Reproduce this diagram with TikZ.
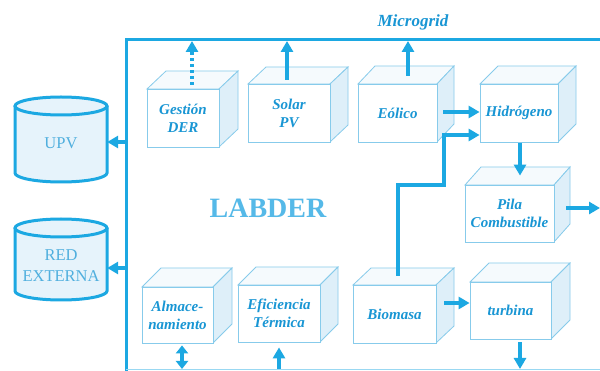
\documentclass[tikz,border=0pt]{standalone}
\usepackage{fontspec}
\setmainfont{Liberation Serif}
\usetikzlibrary{arrows.meta}
\definecolor{lineblue}{RGB}{28,168,226}
\definecolor{textblue}{RGB}{25,150,212}
\definecolor{edgeblue}{RGB}{135,203,235}
\definecolor{sidefill}{RGB}{222,239,249}
\definecolor{topfill}{RGB}{245,250,253}
\definecolor{cylfill}{RGB}{230,243,251}
\definecolor{cyltext}{RGB}{80,175,222}
\definecolor{labtext}{RGB}{85,185,232}
\tikzset{
  cubeedge/.style={draw=edgeblue, line width=0.8pt},
  cubeface/.style={draw=edgeblue, line width=0.8pt, fill=white, align=center, inner sep=0pt,
    text=textblue, font=\bfseries\itshape\fontsize{15}{18}\selectfont},
  arr/.style={draw=lineblue, line width=3.2pt, -{Triangle[length=11pt,width=12pt]}},
  darr/.style={draw=lineblue, line width=3.2pt, {Triangle[length=8pt,width=12pt]}-{Triangle[length=8pt,width=12pt]}},
  dotarr/.style={draw=lineblue, line width=3.2pt, dash pattern=on 3pt off 3pt, -{Triangle[length=11pt,width=12pt]}},
  framel/.style={draw=lineblue, line width=3pt},
  cylline/.style={draw=lineblue, line width=3pt, fill=cylfill},
  cyllabel/.style={text=cyltext, align=center, inner sep=0pt, font=\fontsize{16.5}{21}\selectfont},
}
\newcommand\mycube[8]{%
  \filldraw[cubeedge, fill=topfill] (#2,#3) -- ({#2+#6},{#3-#7}) -- ({#4+#6},{#3-#7}) -- (#4,#3) -- cycle;
  \filldraw[cubeedge, fill=sidefill] (#4,#3) -- ({#4+#6},{#3-#7}) -- ({#4+#6},{#5-#7}) -- (#4,#5) -- cycle;
  \node[cubeface, minimum width={(#4-#2)*1pt}, minimum height={(#5-#3)*1pt}] (#1) at ({(#2+#4)/2},{(#3+#5)/2}) {#8};
}
\newcommand\mycyl[4]{% x1, x2, ytop, ybottom
  \filldraw[cylline] (#1,#3) -- (#1,#4) arc[start angle=180, end angle=360, x radius={(#2-#1)/2*1pt}, y radius=9pt] -- (#2,#3);
  \filldraw[cylline] ({(#1+#2)/2},#3) ellipse[x radius={(#2-#1)/2*1pt}, y radius=9pt];
}
\begin{document}
\begin{tikzpicture}[x=1pt,y=-1pt]
\useasboundingbox[fill=white] (0,0) rectangle (600,371);

% frame
\draw[framel] (600,40) -- (126,40) -- (126,372);
\draw[draw=lineblue!45, line width=1pt] (126,369.5) -- (600,369.5);
\node[text=textblue, font=\bfseries\itshape\fontsize{17}{20}\selectfont, inner sep=0pt] (mg) at (413,22) {Microgrid};

% frame coordinates
\coordinate (fupv) at (126,142);
\coordinate (fred) at (126,268);
\coordinate (gtop) at (192,41);
\coordinate (stop) at (287,41);
\coordinate (etop) at (408,41);
\coordinate (pleft) at (566,208);
\coordinate (pright) at (600,208);
\coordinate (tbot) at (520,369);
\coordinate (abot) at (182,369);
\coordinate (efbot) at (279,369);
\coordinate (b0) at (398,276);
\coordinate (b1) at (398,185);
\coordinate (b2) at (444,185);
\coordinate (b3) at (444,135);
\coordinate (eh) at (443,112);
\coordinate (bt) at (444,303);
\coordinate (hp) at (520,143);

% cylinders
\mycyl{15}{107}{106}{173}
\node[cyllabel, minimum width=92pt] (upv) at (61,143) {UPV};
\mycyl{15}{107}{228}{291}
\node[cyllabel, minimum width=92pt] (red) at (61,266) {RED\\EXTERNA};

% cubes
\mycube{ges}{147}{89}{219}{147}{19}{18}{Gestión\\DER}
\mycube{sol}{248}{84}{330}{142}{18}{17}{Solar\\PV}
\mycube{eol}{358}{84}{437}{142}{17}{18}{Eólico}
\mycube{hid}{480}{84}{558}{142}{18}{18}{Hidrógeno}
\mycube{pila}{465}{185}{554}{242}{16}{18}{Pila\\Combustible}
\mycube{alm}{142}{287}{213}{343}{19}{19}{Almace-\\namiento}
\mycube{efi}{238}{285}{320}{342}{18}{18}{Eficiencia\\Térmica}
\mycube{bio}{353}{285}{436}{343}{18}{17}{Biomasa}
\mycube{tur}{470}{282}{551}{339}{19}{19}{turbina}

\node[text=labtext, font=\bfseries\fontsize{28}{32}\selectfont, inner sep=0pt] (lab) at (268,208) {LABDER};

% arrows
\draw[arr] (fupv) -- (upv.east |- fupv);
\draw[arr] (fred) -- (red.east |- fred);
\draw[dotarr] ([yshift=4pt]gtop |- ges.north) -- (gtop);
\draw[arr] ([yshift=4pt]stop |- sol.north) -- (stop);
\draw[arr] ([yshift=8pt]etop |- eol.north) -- (etop);
\draw[arr] (eh) -- (eh -| hid.west);
\draw[arr] (b0) -- (b1) -- (b2) -- (b3) -- (b3 -| hid.west);
\draw[arr] (hp) -- ([yshift=9pt]pila.north -| hp);
\draw[arr] (pleft) -- (pright);
\draw[arr] (bt) -- (bt -| tur.west);
\draw[arr] ([yshift=-3pt]tur.south -| tbot) -- (tbot);
\draw[darr] ([yshift=-2pt]alm.south -| abot) -- (abot);
\draw[arr] (efbot) -- ([yshift=-5pt]efi.south -| efbot);
\end{tikzpicture}
\end{document}
